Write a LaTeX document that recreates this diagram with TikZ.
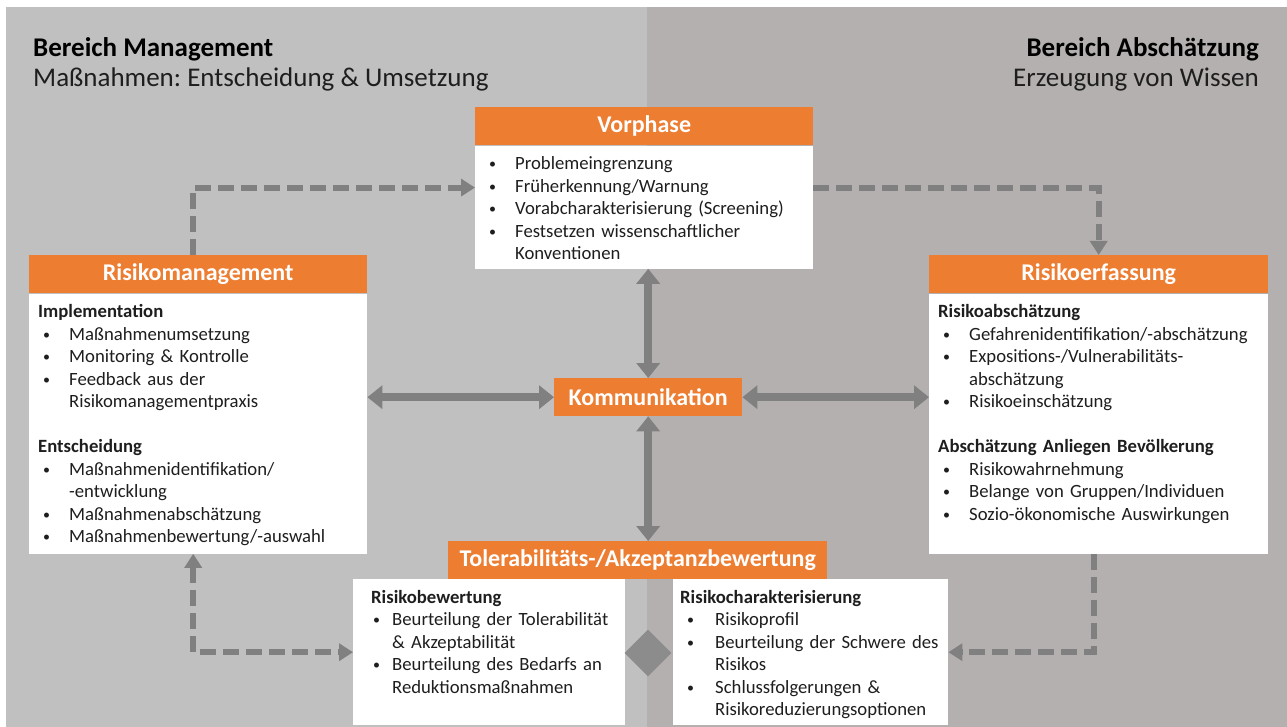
\documentclass[tikz,border=0pt]{standalone}
\usepackage{fontspec}
\setmainfont{Carlito}
\frenchspacing
\usetikzlibrary{arrows.meta,positioning,shapes.geometric}
\definecolor{orangeton}{RGB}{237,125,49}
\definecolor{hgrlinks}{RGB}{192,192,192}
\definecolor{hgrrechts}{RGB}{181,176,176}
\definecolor{pfeilgrau}{RGB}{128,128,128}
\definecolor{rautegrau}{RGB}{140,140,140}
\definecolor{schrift}{RGB}{30,30,30}

\newlength{\pvor}
\newlength{\pbreit}
\setlength{\pvor}{5pt}
\setlength{\pbreit}{26pt}
\newcommand{\punkt}{\raisebox{1pt}{\fontsize{14}{14}\selectfont\textbullet}}
\newcommand{\stichpunkt}[1]{\hangindent=\dimexpr\pvor+\pbreit\relax\hangafter=1
  \hspace*{\pvor}\makebox[\pbreit][l]{\punkt}#1\par}

\begin{document}
\begin{tikzpicture}[x=1pt, y=-1pt, >={Triangle[length=14pt,width=17pt]},
  kopf/.style={fill=orangeton, text=white, font=\fontsize{24}{29}\selectfont\bfseries,
               minimum height=38pt, inner sep=0pt, anchor=north west},
  feld/.style={fill=white, text=schrift, align=left, font=\fontsize{18.7}{22.5}\selectfont,
               inner xsep=9pt, inner ysep=6pt, text height=18pt},
  titel/.style={text=black, font=\fontsize{27}{32}\selectfont\bfseries, inner sep=0pt},
  untertitel/.style={text=schrift, font=\fontsize{27}{32}\selectfont, inner sep=0pt},
  pfeil/.style={draw=pfeilgrau, line width=8pt,
                {Triangle[length=15pt,width=23pt]}-{Triangle[length=15pt,width=23pt]}},
  strich/.style={draw=pfeilgrau, line width=6pt, dash pattern=on 16pt off 7pt},
  raute/.style={diamond, fill=rautegrau, minimum width=47pt, minimum height=47pt, inner sep=0pt}]
\useasboundingbox (0,0) rectangle (1287,727);
% Hintergrund
\fill[white] (0,0) rectangle (1287,727);
\fill[hgrlinks] (6,7) rectangle (647,727);
\fill[hgrrechts] (647,7) rectangle (1287,727);
% Bereiche
\node[titel, anchor=base west] (mtitel) at (33,57) {Bereich Management};
\node[untertitel, anchor=base west] (muntert) at (33,87) {Maßnahmen: Entscheidung \& Umsetzung};
\node[titel, anchor=base east] (atitel) at (1259,57) {Bereich Abschätzung};
\node[untertitel, anchor=base east] (auntert) at (1259,87) {Erzeugung von Wissen};
% Vorphase
\node[kopf, minimum width=338pt] (vpkopf) at (475,107) {Vorphase};
\node[feld, text width=320pt, text depth=93pt, below=0pt of vpkopf] (vpfeld) {%
  \stichpunkt{Problemeingrenzung}
  \stichpunkt{Früherkennung/Warnung}
  \stichpunkt{Vorabcharakterisierung (Screening)}
  \stichpunkt{Festsetzen wissenschaftlicher\newline Konventionen}};
% Risikomanagement
\node[kopf, minimum width=338pt] (rmkopf) at (29,255) {Risikomanagement};
\node[feld, text width=320pt, text depth=230pt, below=0pt of rmkopf] (rmfeld) {%
  \textbf{Implementation}\par
  \stichpunkt{Maßnahmenumsetzung}
  \stichpunkt{Monitoring \& Kontrolle}
  \stichpunkt{Feedback aus der\newline Risikomanagementpraxis}
  \vspace{22.5pt}
  \textbf{Entscheidung}\par
  \stichpunkt{Maßnahmenidentifikation/\newline -entwicklung}
  \stichpunkt{Maßnahmenabschätzung}
  \stichpunkt{Maßnahmenbewertung/-auswahl}};
% Risikoerfassung
\node[kopf, minimum width=339pt] (rekopf) at (929,255) {Risikoerfassung};
\node[feld, text width=321pt, text depth=230pt, below=0pt of rekopf] (refeld) {%
  \textbf{Risikoabschätzung}\par
  \stichpunkt{Gefahrenidentifikation/-abschätzung}
  \stichpunkt{Expositions-/Vulnerabilitäts-\newline abschätzung}
  \stichpunkt{Risikoeinschätzung}
  \vspace{22.5pt}
  \textbf{Abschätzung Anliegen Bevölkerung}\par
  \stichpunkt{Risikowahrnehmung}
  \stichpunkt{Belange von Gruppen/Individuen}
  \stichpunkt{Sozio-ökonomische Auswirkungen}};
% Kommunikation
\node[kopf, minimum width=188pt] (kommu) at (554,378) {Kommunikation};
% Bewertung
\node[kopf, minimum width=379pt] (tolkopf) at (448,541) {Tolerabilitäts-/Akzeptanzbewertung};
\node[feld, anchor=north west, text width=246pt, inner xsep=13pt, text depth=116pt,
      execute at begin node={\setlength{\pvor}{7pt}\setlength{\pbreit}{19pt}}]
      (rbfeld) at (353,579) {%
  \hspace*{5pt}\textbf{Risikobewertung}\par
  \stichpunkt{Beurteilung der Tolerabilität\newline \& Akzeptabilität}
  \stichpunkt{Beurteilung des Bedarfs an\newline Reduktionsmaßnahmen}};
\node[feld, anchor=north west, text width=261pt, inner xsep=7pt, text depth=116pt,
      execute at begin node={\setlength{\pvor}{7pt}\setlength{\pbreit}{28pt}}]
      (rcfeld) at (673,579) {%
  \textbf{Risikocharakterisierung}\par
  \stichpunkt{Risikoprofil}
  \stichpunkt{Beurteilung der Schwere des\newline Risikos}
  \stichpunkt{Schlussfolgerungen \&\newline Risikoreduzierungsoptionen}};
\node[raute] (raute) at (648,653) {};
% Verbindungen
\draw[pfeil] (kommu.north |- vpfeld.south) -- (kommu.north);
\draw[pfeil] (kommu.south) -- (kommu.south |- tolkopf.north);
\draw[pfeil] (rmfeld.east |- kommu.west) -- (kommu.west);
\draw[pfeil] (kommu.east) -- (kommu.east -| refeld.west);
\draw[strich, ->] ([xshift=-5pt]rmkopf.north) |- ([yshift=19.5pt]vpfeld.west);
\draw[strich, ->] ([yshift=19.5pt]vpfeld.east) -| (rekopf.north);
\draw[strich, ->] ([xshift=-5pt]refeld.south) |- (rcfeld.east);
\draw[strich, <->] ([xshift=-5pt]rmfeld.south) |- (rbfeld.west);
\end{tikzpicture}
\end{document}
